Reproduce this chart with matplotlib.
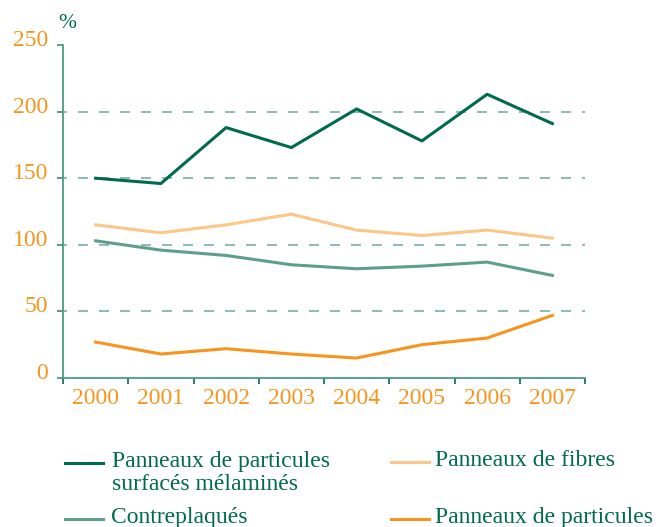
import matplotlib
matplotlib.use("Agg")
import matplotlib.pyplot as plt
from matplotlib.lines import Line2D
from matplotlib.transforms import ScaledTranslation

years = ["2000", "2001", "2002", "2003", "2004", "2005", "2006", "2007"]
melamine = [150, 146, 188, 173, 202, 178, 213, 191]
fibres = [115, 109, 115, 123, 111, 107, 111, 105]
contreplaques = [103, 96, 92, 85, 82, 84, 87, 77]
particules = [27, 18, 22, 18, 15, 25, 30, 47]

y_ticks = [0, 50, 100, 150, 200, 250]
grid_levels = [50, 100, 150, 200]

DARK = "#006A4E"
TEAL = "#5E9F8C"
LIGHT_OR = "#FDC689"
ORANGE = "#F7941D"
AXIS = "#4E9A84"
GRID = "#7AB0A0"

plt.rcParams["font.family"] = ["Liberation Serif", "DejaVu Serif"]

W, H = 659, 527
fig = plt.figure(figsize=(W / 100, H / 100), dpi=100)
ax = fig.add_axes([63 / W, (H - 378) / H, 522 / W, 333 / H])

x = range(len(years))

# dashed grid, starts a little left of the axis like the ticks
for lv in grid_levels:
    ax.plot([-6 / 522, 1], [lv, lv], transform=ax.get_yaxis_transform(),
            color=GRID, lw=1.2, linestyle=(0, (6, 6.6)), clip_on=False, zorder=1)

ax.plot(x, melamine, color=DARK, lw=2.2, zorder=3)
ax.plot(x, fibres, color=LIGHT_OR, lw=2.2, zorder=3)
ax.plot(x, contreplaques, color=TEAL, lw=2.2, zorder=3)
ax.plot(x, particules, color=ORANGE, lw=2.2, zorder=3)

ax.set_xlim(-0.5, len(years) - 0.5)
ax.set_ylim(0, 250)

ax.spines["top"].set_visible(False)
ax.spines["right"].set_visible(False)
ax.spines["left"].set_color(AXIS)
ax.spines["bottom"].set_color(AXIS)
ax.spines["left"].set_linewidth(1.3)
ax.spines["bottom"].set_linewidth(1.3)

ax.set_yticks(y_ticks)
ax.tick_params(axis="y", length=4.3, width=1.3, color=AXIS, pad=6.5,
               labelsize=17, labelcolor=ORANGE)
# the y labels sit a bit above their tick in the original
up = ScaledTranslation(0, 5 / 72, fig.dpi_scale_trans)
for lab in ax.yaxis.get_majorticklabels():
    lab.set_transform(lab.get_transform() + up)

ax.set_xticks(list(x))
ax.set_xticklabels(years)
ax.set_xticks([i - 0.5 for i in range(len(years) + 1)], minor=True)
ax.tick_params(axis="x", which="major", length=0, pad=7.5,
               labelsize=17, labelcolor=ORANGE)
ax.tick_params(axis="x", which="minor", length=4.3, width=1.2, color=DARK)

fig.text(67 / W, 1 - 23 / H, "%", color=DARK, fontsize=15.5,
         ha="center", va="center")

# legend drawn by hand to keep the two columns aligned
entries = [
    (65, 462.5, 111.5, ["Panneaux de particules", "surfacés mélaminés"], DARK),
    (391, 462, 435, ["Panneaux de fibres"], LIGHT_OR),
    (65, 519, 111.5, ["Contreplaqués"], TEAL),
    (391, 518.5, 435, ["Panneaux de particules"], ORANGE),
]
for x0, yl, xt, lines, col in entries:
    fig.add_artist(Line2D([x0 / W, (x0 + 38) / W], [1 - yl / H, 1 - yl / H],
                          transform=fig.transFigure, color=col, lw=2.2))
    for k, s in enumerate(lines):
        fig.text(xt / W, 1 - (yl + 4.5 + 23.5 * k) / H, s, color=DARK,
                 fontsize=17, ha="left", va="baseline")

fig.savefig("out.png", dpi=100)
